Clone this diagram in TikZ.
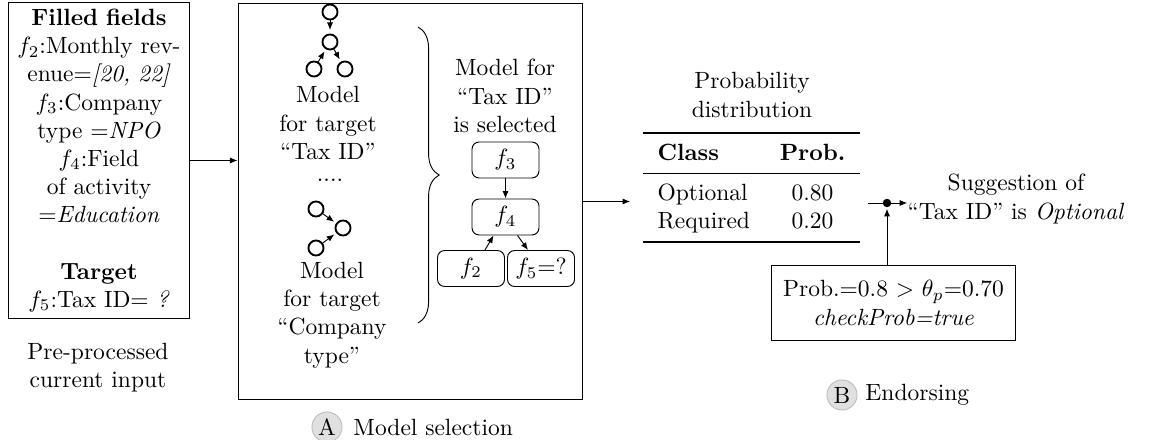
\documentclass[tikz,border=0pt]{standalone}
\usepackage{booktabs}
\usepackage{array}
\usetikzlibrary{arrows.meta,calc,decorations.pathreplacing}
\begin{document}
\begin{tikzpicture}[x=0.4255pt,y=-0.4255pt,
  arr/.style={-{Latex[length=3.2pt,width=2.6pt]}},
  mini/.style={circle,draw,thick,minimum size=6.4pt,inner sep=0pt},
  fbox/.style={draw,rounded corners=3pt,minimum width=28.5pt,minimum height=15.3pt,inner sep=1pt},
  lbl/.style={align=center,inner sep=0pt},
  badge/.style={circle,fill=black!12,draw=black!25,minimum size=12.8pt,inner sep=0pt}]
\useasboundingbox (0,0) rectangle (1164,440);

% left input box
\node[draw,text width=72pt,align=center,minimum height=134pt,inner sep=2.7pt] (lbox) at (99,160.5)
 {\textbf{Filled fields}\\ $f_2$:Monthly rev-\\ enue=\textit{[20, 22]}\\ $f_3$:Company\\ type =\textit{NPO}\\ $f_4$:Field\\ of activity\\ =\textit{Education}\\[12pt] \textbf{Target}\\ $f_5$:Tax ID= \textit{?}};
\node[lbl] (pre) at (98,368) {Pre-processed\\current input};

% middle box
\node[draw,minimum width=146.4pt,minimum height=168.9pt,inner sep=0pt] (mbox) at (410,201.5) {};
\draw[arr] (lbox.east) -- (lbox.east -| mbox.west);

% first mini tree
\node[mini] (t1) at (330,12) {};
\node[mini] (t2) at (330,42) {};
\node[mini] (t3) at (314,69) {};
\node[mini] (t4) at (345,69) {};
\draw[arr,shorten >=1.5pt] (t1) -- (t2);
\draw[arr,shorten >=1pt] (t3) -- (t2);
\draw[arr,shorten >=1pt] (t2) -- (t4);
\node[lbl] (m1) at (328,123) {Model\\for target\\``Tax ID''};
\node[lbl] (dots) at (330,180) {....};

% second mini tree
\node[mini] (s1) at (316,209) {};
\node[mini] (s2) at (343,228) {};
\node[mini] (s3) at (316,248) {};
\draw[arr,shorten >=1pt] (s1) -- (s2);
\draw[arr,shorten >=1pt] (s3) -- (s2);
\node[lbl] (m2) at (332,315) {Model\\for target\\``Company\\type''};

% brace
\coordinate (brt) at (418,27);
\coordinate (brb) at (418,323);
\draw[decorate,decoration={brace,amplitude=9pt}] (brt) -- (brb);

% selected model
\node[lbl] (sel) at (505,96) {Model for\\``Tax ID''\\is selected};
\node[fbox] (f3) at (505.5,160) {$f_3$};
\node[fbox] (f4) at (505.5,217) {$f_4$};
\node[fbox] (f2) at (471,268.5) {$f_2$};
\node[fbox] (f5) at (541,268.5) {$f_5$=?};
\draw[arr] (f3) -- (f4);
\draw[arr] ($(f2.north)+(14,0)$) -- ($(f4.south)+(-12,0)$);
\draw[arr] ($(f4.south)+(12,0)$) -- ($(f5.north)+(-13,0)$);

\node[badge] (ba) at (327,427) {A};
\node[anchor=west,inner sep=0pt] (la) at (353,427) {Model selection};

% table
\node[inner sep=0pt] (tab) at (751.5,187.5) {\begin{tabular}{@{\hspace{6pt}}p{40pt}c@{\hspace{6pt}}}
\toprule
\textbf{Class} & \textbf{Prob.}\\
\midrule
Optional & 0.80\\
Required & 0.20\\
\bottomrule
\end{tabular}};
\node[lbl] (pd) at (752,95) {Probability\\distribution};
\draw[arr,shorten >=5.5pt] (mbox.east) -- (mbox.east -| tab.west);

% endorsing
\coordinate (j) at (887,203);
\node[lbl] (sug) at (1016,199) {Suggestion of\\``Tax ID'' is \textit{Optional}};
\node[draw,minimum width=104pt,minimum height=32.3pt,align=center] (pbox) at (893.5,303)
 {Prob.=0.8 $>$ $\theta_p$=0.70\\\textit{checkProb=true}};
\draw[arr] ($(tab.east |- j)+(8,0)$) -- (j -| sug.west);
\fill (j) circle (1.8pt);
\draw[arr,shorten >=2.5pt] (pbox.north -| j) -- (j);

\node[badge] (bbd) at (842,395) {B};
\node[anchor=west,inner sep=0pt] (lb) at (865,395) {Endorsing};
\end{tikzpicture}
\end{document}
